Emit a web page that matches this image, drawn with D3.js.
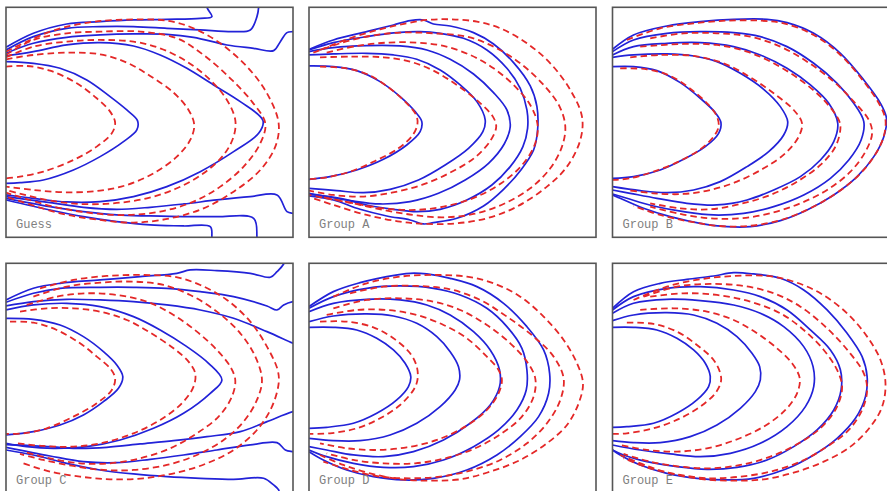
<!DOCTYPE html>
<html>
<head>
<meta charset="utf-8">
<script src="https://cdn.jsdelivr.net/npm/d3@7/dist/d3.min.js"></script>
<style>
  html, body { margin: 0; padding: 0; background: #fff; }
  svg { display: block; }
</style>
</head>
<body>
<div id="chart"></div>
<script>
// Contours per panel, in field units (x 0..86, y 0..69, y downward from top edge)
// blue = computed (solid), red = reference (dashed)

const panelNames = ['Guess', 'Group A', 'Group B', 'Group C', 'Group D', 'Group E'];

const guessBlue = [
  [[0,16.3],[8.2,16.8],[16.2,18.3],[24.2,21.8],[31.2,26.8],[36.2,30.8],[39.4,34],[39.2,36.8],[35.2,40.3],[28.2,44.8],[20.2,48.8],[11.2,51.8],[4.2,52.6],[0,52.8]],
  [[0,14.6],[8.2,13.3],[18.2,11.3],[28.2,10.6],[38.2,11.6],[46.2,14.3],[54.2,18.3],[62.2,23.3],[70.2,28.3],[77,34],[75.7,37.8],[68.2,43.3],[58.2,49.3],[48.2,53.8],[38.2,56.8],[28.2,58.3],[18.2,58.4],[8.2,57.3],[0,56.3]],
  [[0,13.8],[8.2,10.8],[18.2,9],[28.2,8.3],[38.2,8],[48.2,8.1],[56.2,9],[66.2,11.3],[74.2,12.3],[80.2,13],[82.2,10.3],[84.2,7.6],[86,7.3],[93,7.3],[93,61.8],[86,61.8],[84.2,61.3],[81.2,56.3],[73.2,56.8],[63.2,57.8],[53.2,59],[43.2,60],[33.2,60.6],[23.2,60],[13.2,58.6],[0,56.8]],
  [[0,12.8],[8.2,8.8],[18.2,6.3],[28.2,5.8],[38.2,5.8],[48.2,6.3],[58.2,6.8],[68.2,7.3],[73.2,6.8],[75.2,2.8],[75.7,0],[75.7,-4],[93,-4],[93,73],[75.2,73],[75.2,69],[74.2,63.3],[63.2,62.8],[53.2,62.8],[43.2,62.6],[33.2,62.3],[23.2,61.3],[13.2,59.8],[0,57.3]],
  [[0,12],[8.2,7.8],[18.2,5],[28.2,4.3],[38.2,3.8],[48.2,3.6],[58.2,3.3],[61.7,2.8],[60.2,0],[60,-4],[93,-4],[93,73],[61.7,73],[61.7,69],[61.2,65.8],[53.2,65.6],[43.2,65.3],[33.2,64.3],[23.2,62.8],[13.2,60.8],[0,57.8]]
];
const guessRed = [
  [[0,17.8],[6.2,17.6],[13.2,19],[21.2,22.8],[27.2,27.3],[31.2,31.3],[32.7,34.6],[31.7,37.8],[27.2,41.8],[20.2,45.8],[11.2,49.3],[4.2,50.8],[0,51.3]],
  [[0,15.6],[8.2,14.3],[18.2,13.6],[28.2,14.1],[36.2,16.6],[43.2,20.6],[50.2,25.6],[54.7,30.8],[56.4,35.3],[55.2,39.8],[51.2,44.8],[44.2,49.8],[36.2,53.3],[28.2,55],[18.2,55.5],[8.2,54.8],[0,53.8]],
  [[0,15],[8.2,11.8],[18.2,10.3],[28.2,9.8],[38.2,10.3],[46.2,12.3],[54.2,16.3],[61.2,21.8],[66.2,27.8],[68.7,33.8],[68.2,38.8],[65.2,44.3],[59.2,49.8],[51.2,54.3],[42.2,57.3],[32.2,58.8],[22.2,59],[12.2,57.8],[0,54.8]],
  [[0,14.3],[8.2,9.8],[18.2,7.8],[28.2,7.3],[40.2,7.3],[51.2,9.3],[59.2,14.3],[67.2,21.3],[73.7,28.3],[77.7,34.8],[76.2,40.8],[71.2,47.8],[64.2,53.8],[56.2,58.3],[46.2,61.3],[36.2,62.3],[26.2,61.8],[14.2,59.8],[0,55.6]],
  [[0,13.3],[13.2,7.3],[23.2,4.8],[33.2,3.8],[48.2,4],[56.2,6.3],[64.2,10.8],[72.2,17.8],[78.2,25.8],[81.7,34.8],[80.7,41.8],[76.2,48.8],[68.2,55.3],[59.2,60.3],[49.2,63.3],[38.2,64.6],[28.2,63.8],[16.2,61.8],[0,56.8]]
];

const groupABlue = [
  [[0,17.6],[7.3,17.8],[14.3,19],[21.3,22.3],[27.3,26.8],[31.8,31.3],[33.8,34.3],[33.3,37.3],[29.3,41.3],[22.3,45.6],[14.3,48.8],[6.3,50.8],[0,51.6]],
  [[0,14.3],[7.3,14],[17.3,13.8],[25.3,14.3],[32.3,15.6],[39.3,18.8],[45.3,23.3],[50.3,28.3],[52.8,33.8],[52.1,37.3],[47.8,42.3],[40.8,47.3],[32.8,51.8],[24.3,54.6],[16.3,55.6],[8.3,55],[0,54.3]],
  [[0,13.3],[7.3,12.1],[17.3,11.5],[27.3,11.6],[35.3,12.8],[42.3,15.6],[49.3,20],[55.3,25.6],[59.3,30.8],[60.3,35.8],[58.5,41],[53.8,46.8],[46.8,51.8],[38.8,55.8],[30.3,58.3],[21.3,59],[12.3,58],[5.3,56.8],[0,55.8]],
  [[0,12.8],[7.3,10.6],[17.3,8.8],[26.3,7.6],[33.3,7.3],[39.3,7.8],[46.3,9.3],[53.3,12.8],[59.3,18.3],[63.3,24.3],[65.3,30.8],[65.5,36.3],[64.1,41.8],[60.3,47.8],[54.8,53.3],[47.3,57.8],[39.3,60.6],[32.3,61.3],[25.3,60.6],[17.3,59.3],[9.3,57.3],[0,56.1]],
  [[0,12.6],[7.3,9.8],[17.3,7.3],[25.3,5.3],[30.3,4],[34.3,3.8],[37.3,5],[42.3,5.6],[49.3,7.6],[55.3,11],[61.3,16.6],[66.3,23.6],[68.3,29.8],[68.5,36.8],[67.3,42.8],[63.5,48.8],[58.3,54.6],[52.3,59.6],[44.3,63.3],[37.3,64.6],[34.3,65],[30.3,63.8],[23.3,62.6],[15.3,60.6],[7.3,57.8],[0,56.6]]
];
const groupARed = [
  [[3.3,17.8],[10.3,18.2],[17.3,20],[23.8,24],[29.3,28.8],[32.1,32.3],[32.5,35],[31.1,38.3],[26.8,42.3],[19.8,46.1],[12.3,49.3],[5.3,51],[0,51.6]],
  [[3.3,15],[12.3,14.8],[22.3,15],[30.3,16.3],[37.3,19],[44.3,23.3],[50.8,28.3],[55.1,32.8],[56.1,35.8],[54.5,39.8],[49.8,45],[42.3,49.6],[33.8,53.3],[24.8,55.6],[15.8,56.8],[7.3,56.3],[0,55]],
  [[5.3,13.6],[14.3,11.6],[23.3,10.6],[32.3,10.6],[40.3,11.6],[48.3,14.3],[55.3,18.3],[61.3,23.3],[66.3,29.3],[68.5,35.3],[67.8,40.8],[64.3,46.8],[58.3,52.3],[50.3,56.8],[41.3,59.6],[31.8,60.8],[22.3,60.3],[13.3,58.8],[5.3,57.3],[0,56.3]],
  [[1.3,13.6],[9.3,10.8],[18.3,8.6],[27.3,7.6],[37.3,7.8],[47.3,8.8],[55.3,11.8],[63.3,16.8],[70.3,23.3],[75.1,29.8],[76.8,35.8],[75.8,41.8],[72.3,48.3],[66.3,54.3],[58.3,59],[49.3,62],[40.3,63],[31.3,62.3],[22.3,60.8],[12.3,58.6],[3.3,56.8]],
  [[3.3,12.8],[12.3,9.3],[21.3,6.6],[29.3,4.8],[35.3,3.8],[42.3,3.6],[50.3,4.3],[57.3,6.3],[65.3,10.8],[72.3,16.8],[78.3,24.8],[81.8,32.8],[81.3,39.8],[77.3,47.8],[71.3,53.8],[62.3,59.8],[53.3,63.3],[44.3,64.8],[35.3,65],[27.3,64.3],[17.3,62.3],[7.3,59.3],[1.3,57.3]]
];

const groupBBlue = [
  [[0,17.8],[6.3,17.8],[13.3,19],[20.3,22.6],[26.3,27.3],[30.8,31.6],[32.5,34.6],[31.8,37.8],[27.8,41.8],[21.3,45.6],[14.3,48.8],[6.3,50.8],[0,51.3]],
  [[0,15],[6.3,14.3],[16.3,14],[24.3,14.6],[31.3,16.3],[38.3,19.8],[45.3,24.6],[50.3,29.8],[52.5,34.3],[51.3,38.3],[46.8,43.3],[40.3,47.8],[32.3,52.3],[24.3,54.8],[16.3,55.6],[8.3,55],[0,53.8]],
  [[0,14.3],[6.3,11.8],[16.3,10.8],[26.3,10.6],[36.3,11.8],[44.3,14.3],[52.3,18.3],[59.3,23.3],[64.8,28.8],[67.5,34.8],[66.3,40.3],[62.3,45.8],[56.3,50.8],[48.3,54.8],[40.3,57.8],[31.3,59.3],[22.3,58.8],[13.3,57.3],[5.3,55.8],[0,54.8]],
  [[0,13.3],[6.3,9.8],[16.3,7.8],[26.3,7.3],[36.3,7.6],[44.3,8.8],[52.3,11.8],[60.3,16.8],[67.3,22.8],[72.3,28.8],[75.3,34.3],[74.5,39.8],[70.8,45.8],[65.3,51.3],[57.3,56.3],[48.3,59.8],[39.3,61.8],[30.3,62.3],[21.3,61.3],[12.3,59.6],[4.3,57.3],[0,56]],
  [[0,12.6],[6.3,8.3],[16.3,5.6],[26.3,4.3],[36.3,3.6],[46.3,3.6],[52.3,4.6],[60.3,7.8],[68.3,13.8],[75.3,21.8],[80.3,28.8],[82.1,33.3],[81.3,38.8],[78.3,44.8],[73.3,50.8],[66.3,56.3],[58.3,60.8],[50.3,64],[41.3,65.8],[34.3,65.8],[26.3,64.8],[17.3,62.8],[9.3,60.3],[2.3,57.3],[0,56.3]]
];
const groupBRed = [
  [[2.3,18.3],[10.3,18.6],[17.3,20.6],[23.8,24.8],[28.8,29.3],[31.3,32.8],[31.8,35.8],[30.3,38.8],[26.3,42.6],[19.8,46.3],[12.3,49.3],[5.3,51.3],[0,51.8]],
  [[5.3,15],[14.3,14.3],[24.3,14.6],[33.3,16.8],[41.3,21],[48.3,25.8],[54.3,30.8],[56.8,34.8],[55.8,38.8],[51.8,43.8],[45.3,48.3],[37.3,52.3],[29.3,54.8],[21.3,56],[12.3,55.8],[4.3,54.8]],
  [[8.3,11.8],[21.3,11],[31.3,11.3],[40.3,13.3],[48.3,16.8],[56.3,21.8],[63.3,27.8],[67.8,33.8],[68.3,36.3],[66.8,41.8],[62.3,47.3],[55.3,52.3],[47.3,56.3],[38.3,59],[29.3,60.6],[20.3,60.3],[11.3,58.8]],
  [[11.3,9.3],[21.3,7.8],[31.3,7.8],[41.3,8.8],[50.3,11.8],[58.3,16.3],[66.3,22.3],[72.3,28.3],[76.8,33.8],[77.8,37.8],[75.8,43.3],[71.3,49.3],[64.3,54.8],[56.3,58.8],[47.3,61.8],[38.3,63.3],[29.3,63.3],[20.3,62],[11.3,59.8]],
  [[4.3,9.8],[14.3,6.3],[24.3,4.8],[34.3,4],[44.3,4],[51.3,4.8],[60.3,8.3],[68.3,14.3],[75.3,22.3],[80.1,29.3],[81.8,33.8],[81.1,39.3],[77.8,45.6],[72.8,51.3],[65.8,56.6],[57.8,61],[49.8,64],[40.8,65.6],[31.8,65.6],[23.3,64.3],[14.3,62.3],[6.3,59.6]]
];

const groupCBlue = [
  [[0,16.5],[8.2,16.8],[16.2,18.5],[23.2,22],[29.2,26.5],[33.2,30.5],[35,34],[33.7,37.5],[29.2,41.5],[23.2,45.5],[16.2,48.5],[8.2,50.5],[0,51.5]],
  [[0,14],[8.2,12.5],[18.2,12],[28.2,13],[38.2,16],[46.2,20],[54.2,25],[60.7,30],[64.7,35],[61.2,39],[53.2,45],[44.2,49.5],[34.2,53],[24.2,55],[14.2,55.5],[6.2,55],[0,54]],
  [[0,12.8],[8.2,11.5],[18.2,10.8],[28.2,11],[38.2,11.5],[48.2,12.5],[58.2,14],[68.2,16.5],[78.2,20.5],[86,24],[93,27],[93,43],[86,44.5],[78.2,47.5],[70.2,50.5],[60.2,52],[50.2,53.2],[40.2,54.2],[30.2,55.2],[21.2,55.5],[13.2,55],[6.2,54.6],[0,54.4]],
  [[0,11.7],[8.2,9],[16.2,7.5],[28.2,7.2],[38.2,7.2],[48.2,7.5],[58.2,8.5],[68.2,10],[78.2,12.8],[81.2,14],[83.2,12.5],[86,11.5],[93,11],[93,57],[86,56.5],[83.7,56],[81.2,53.8],[73.2,54.5],[63.2,56],[53.2,57.5],[43.2,58.8],[33.2,59.8],[23.2,59.5],[13.2,57.8],[0,55.2]],
  [[0,11],[8.2,7.5],[16.2,6],[28.2,5],[40.2,4],[51.2,3],[55.2,2],[63.2,2.2],[73.2,3],[79.2,4.2],[81.2,2.5],[83.2,0.2],[84.5,-4],[93,-4],[93,73],[82.5,73],[81.7,68],[80.2,66.5],[77.2,64.5],[68.2,64.8],[58.2,64.5],[48.2,64],[38.2,63.2],[28.2,62],[18.2,60],[8.2,57.5],[0,56]]
];
const groupCRed = [
  [[1.2,17.5],[8.2,17.8],[15.2,20],[22.2,24],[27.2,28],[31.2,31.5],[32.7,34.5],[31.7,38],[27.2,42],[20.2,46],[12.2,49.5],[5.2,51],[0,51.2]],
  [[4.2,14.5],[12.2,13.5],[20.2,13.5],[28.2,14.5],[36.2,17],[43.2,20.8],[50.2,25.5],[54.7,29.5],[56.7,33],[56.2,37],[52.7,42],[46.2,47],[38.2,51],[29.2,53.8],[20.2,55],[11.2,54.8],[3.2,54]],
  [[6.2,12.5],[15.2,10],[24.2,9],[33.2,9.5],[42.2,11.5],[50.2,15.5],[57.2,20.5],[63.2,26],[67.2,31],[68.7,35],[67.7,40],[63.7,46],[57.2,51],[49.2,55.5],[40.2,58.5],[31.2,60],[22.2,60],[13.2,58.5],[5.2,56.5]],
  [[8.2,10],[18.2,7],[28.2,5.8],[38.2,5.5],[47.2,6.5],[55.2,9.5],[63.2,14.5],[70.2,21],[74.7,28],[76.7,35],[75.2,41],[71.2,47.5],[65.2,53],[57.2,57.5],[48.2,60.5],[38.2,62],[29.2,62],[20.2,60.8],[11.2,59],[4.2,57.2]],
  [[10.2,7.5],[20.2,5],[30.2,3.8],[40.2,3.5],[50.2,4],[58.2,6.5],[66.2,11],[73.2,17.5],[78.2,25],[81.4,32],[81.7,36],[79.7,43],[75.2,50],[68.2,56],[60.2,60],[51.2,62.8],[41.2,64.5],[31.2,64.8],[22.2,64],[13.2,62.5],[5.2,60]]
];

const groupDBlue = [
  [[0,19.2],[7.3,19.2],[14.3,20],[20.3,22.5],[25.3,26],[28.8,30],[30.5,34],[29.8,37],[26.3,41],[20.3,45],[13.3,48],[5.3,49.2],[0,49.5]],
  [[0,17.5],[7.3,15.8],[17.3,15.2],[25.3,15.8],[32.3,18],[38.3,22],[42.3,26.5],[44.8,31],[45.1,35],[43.8,38],[39.3,43],[32.3,48],[24.3,51.5],[15.3,53.2],[7.3,53.2],[0,52.5]],
  [[0,14.5],[7.3,12],[17.3,10.8],[27.3,11],[35.3,12.5],[42.3,15.5],[49.3,20.5],[54.3,26],[57.1,32],[57.1,37],[54.3,42.5],[48.3,48],[40.3,53],[31.3,56.5],[22.3,58],[13.3,57.5],[5.3,56],[0,55]],
  [[0,13.5],[7.3,10],[17.3,7.5],[27.3,6.8],[37.3,7.5],[45.3,9.5],[53.3,13.5],[59.3,19],[63.8,25.5],[65.3,32],[65.1,38],[62.3,44],[56.8,50],[49.3,55],[40.3,59],[31.3,61],[22.3,61.2],[13.3,60],[5.3,58],[0,56]],
  [[0,13],[7.3,8.5],[15.3,5.8],[23.3,4],[30.3,3],[35.3,3.2],[42.3,4.5],[50.3,7],[58.3,12],[65.3,19],[70.3,26],[72.1,33],[71.8,39],[68.8,46],[63.3,52],[56.3,57.5],[47.3,62],[37.3,64.5],[28.3,65],[19.3,64],[11.3,62],[4.3,59],[0,56.5]]
];
const groupDRed = [
  [[3.3,17.5],[11.3,17.5],[19.3,19.2],[25.3,22.5],[30.3,27],[32.3,31],[32.5,35],[31.3,38],[27.3,42.5],[21.3,46.5],[14.3,49.5],[6.3,51],[0.3,51.2]],
  [[5.3,15.5],[14.3,14],[23.3,14],[32.3,15.5],[40.3,18.5],[47.3,22.5],[53.3,28],[56.8,32],[57.8,35],[56.8,39],[53.3,44],[46.8,49],[38.3,53],[29.3,55.2],[20.3,56],[11.3,55.5],[3.3,54]],
  [[7.3,13.5],[17.3,11],[27.3,10.5],[37.3,11.5],[45.3,14],[53.3,18.5],[60.3,24],[65.3,29.5],[67.8,34.5],[67.3,40],[63.8,46],[57.8,51],[49.8,55.5],[40.8,58.5],[31.8,60],[22.3,60],[13.3,59],[5.3,57]],
  [[12.3,9],[22.3,7],[32.3,6.8],[42.3,7.8],[51.3,11],[59.3,16],[67.3,22],[73.3,28],[76.3,34.5],[75.3,41],[71.3,48],[65.3,54],[57.3,59],[48.3,62.2],[39.3,64],[30.3,64.5],[21.3,64],[12.3,62],[4.3,59.5]],
  [[7.3,10],[17.3,6],[27.3,4],[37.3,3.5],[47.3,4],[55.3,6],[63.3,10],[70.3,16],[76.3,23],[80.3,30],[82.1,36],[80.8,42],[77.3,48.5],[71.3,54],[63.3,59],[54.3,62.5],[45.3,64.8],[36.3,65.2],[27.3,64.8],[18.3,63],[10.3,60.5],[3.3,57.5]]
];

const groupEBlue = [
  [[0,19.2],[6.3,19.2],[13.3,20],[19.3,22.5],[24.3,26],[27.8,30],[29.3,34],[28.8,37],[25.3,41],[19.3,45],[12.3,48],[4.3,49],[0,49.2]],
  [[0,17.2],[6.3,15.5],[16.3,14.8],[24.3,15.5],[31.3,18],[37.3,22],[41.8,27],[44.1,31],[44.3,35],[42.8,38.5],[38.3,43.5],[31.3,48.5],[23.3,52],[14.3,53.8],[6.3,53.8],[0,53.2]],
  [[0,15],[6.3,12],[16.3,10.8],[26.3,11.2],[36.3,12.5],[44.3,15],[51.3,19],[57.3,25],[60.1,31],[60.3,37],[57.8,43],[52.3,49],[44.3,54],[35.3,57],[26.3,58],[17.3,57.2],[8.3,56],[0,54.5]],
  [[0,14],[6.3,10],[16.3,7.5],[26.3,7],[36.3,8],[44.3,10],[52.3,14],[59.3,20],[65.3,26],[68.3,32],[68.5,38],[66.3,44],[61.3,50],[54.3,55],[46.3,59],[37.3,61.2],[28.3,61.8],[19.3,61],[10.3,59.5],[3.3,57.5],[0,56]],
  [[0,13.5],[6.3,8.5],[14.3,6],[22.3,4.8],[30.3,3.8],[36.3,2.8],[42.3,3.2],[50.3,4.5],[57.3,8],[64.3,14],[70.3,21],[74.8,28],[76.3,34],[75.8,40],[72.8,46.5],[67.3,52.5],[60.3,57.5],[51.8,61.8],[42.3,64.5],[34.3,65],[25.3,64.5],[16.3,63],[8.3,60.5],[2.3,57.5],[0,56]]
];
const groupERed = [
  [[4.3,17.8],[12.3,18.2],[19.3,20.5],[25.3,24.5],[30.3,29],[32.3,33],[32.5,35.5],[30.8,39],[26.3,43],[20.3,46.5],[12.3,49.5],[4.3,51],[0,51.2]],
  [[8.3,14],[18.3,13.5],[28.3,14.5],[36.3,17],[43.3,21],[49.3,25.5],[53.8,30],[56.1,34.5],[55.3,39],[51.8,44],[45.3,49],[36.8,53],[28.3,55.5],[19.3,56.5],[10.3,56],[2.3,54.5]],
  [[11.3,10],[21.3,9],[31.3,9.5],[41.3,11.5],[50.3,15],[57.3,20],[63.3,26],[67.3,32],[68.8,37],[67.3,43],[62.8,49],[55.8,54],[47.3,58],[38.3,60.5],[29.3,61.5],[20.3,61],[11.3,59.5],[3.3,57.2]],
  [[9.3,10],[19.3,7],[29.3,6.2],[39.3,6.8],[48.3,9],[56.3,13],[64.3,19.5],[70.8,26.5],[75.3,33],[76.3,38],[74.8,44],[70.8,50],[64.3,55],[56.3,59.5],[47.3,62.5],[38.3,64],[29.3,64.5],[20.3,63.5],[11.3,61.5],[3.3,58.5]],
  [[6.3,11],[16.3,7],[26.3,4.8],[36.3,3.8],[46.3,3.8],[54.3,5.5],[62.3,9],[70.3,15],[76.3,22],[80.3,29],[81.8,36],[80.8,43],[77.3,49],[71.3,55],[63.3,59.5],[54.3,62.8],[45.3,64.8],[36.3,65.2],[27.3,64.8],[18.3,63.2],[10.3,60.8],[2.3,57.5]]
];

const blueSets = [guessBlue, groupABlue, groupBBlue, groupCBlue, groupDBlue, groupEBlue];
const redSets  = [guessRed, groupARed, groupBRed, groupCRed, groupDRed, groupERed];

const W = 887, H = 491;
const colLeft = [6, 309, 612.5];
const rowTop = [7.3, 263.3];
const pw = 287, ph = 230;

const svg = d3.select('#chart').append('svg')
  .attr('width', W).attr('height', H);

const x = d3.scaleLinear().domain([0, 86]).range([0, pw]);
const y = d3.scaleLinear().domain([0, 69]).range([0, ph]);

const line = d3.line()
  .x(d => x(d[0]))
  .y(d => y(d[1]))
  .curve(d3.curveCatmullRom.alpha(0.5));

panelNames.forEach((name, i) => {
  const px = colLeft[i % 3], py = rowTop[Math.floor(i / 3)];
  const g = svg.append('g').attr('transform', `translate(${px},${py})`);

  const clipId = 'clip' + i;
  g.append('clipPath').attr('id', clipId)
    .append('rect').attr('width', pw).attr('height', ph);

  g.append('rect')
    .attr('width', pw).attr('height', ph)
    .attr('fill', '#fff');

  const plot = g.append('g').attr('clip-path', `url(#${clipId})`);

  plot.selectAll('.blue')
    .data(blueSets[i])
    .join('path')
    .attr('class', 'blue')
    .attr('d', line)
    .attr('fill', 'none')
    .attr('stroke', '#2222d8')
    .attr('stroke-width', 1.7)
    .attr('stroke-linejoin', 'round');

  plot.selectAll('.red')
    .data(redSets[i])
    .join('path')
    .attr('class', 'red')
    .attr('d', line)
    .attr('fill', 'none')
    .attr('stroke', '#e42828')
    .attr('stroke-width', 1.8)
    .attr('stroke-dasharray', '6.5,4');

  g.append('rect')
    .attr('width', pw).attr('height', ph)
    .attr('fill', 'none')
    .attr('stroke', '#555')
    .attr('stroke-width', 1.6);

  g.append('text')
    .attr('x', 10)
    .attr('y', 220.5)
    .attr('font-family', '"Liberation Mono", "DejaVu Sans Mono", monospace')
    .attr('font-size', '12px')
    .attr('fill', '#808080')
    .text(name);
});
</script>
</body>
</html>
